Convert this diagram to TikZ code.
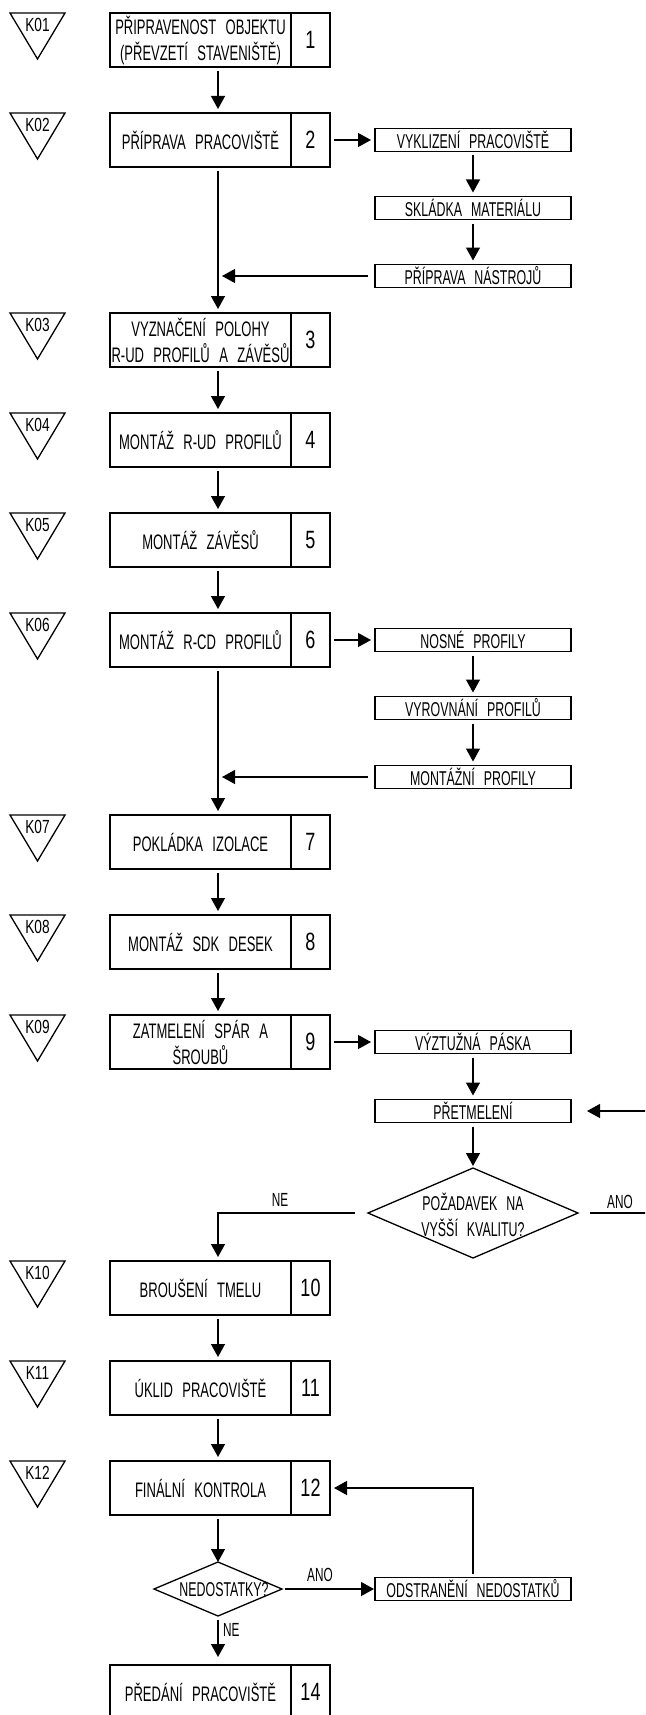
\documentclass[tikz,border=0pt]{standalone}
\usepackage{fontspec}
\setmainfont{Liberation Sans}[FakeStretch=0.62,WordSpace=2.6]
\newfontfamily\widefont{Liberation Sans}[FakeStretch=0.72,WordSpace=2.6]
\usetikzlibrary{shapes.geometric,arrows.meta,positioning,calc}

\tikzset{
  box/.style={draw, line width=1.3pt, outer sep=0pt, inner sep=0pt, minimum width=181pt, minimum height=54pt, align=center, font=\fontsize{21}{26}\selectfont},
  num/.style={draw, line width=1.3pt, outer sep=0pt, minimum width=39pt, minimum height=54pt, font=\widefont\fontsize{25}{26}\selectfont},
  sub/.style={draw, line width=1.3pt, outer sep=0pt, inner sep=0pt, minimum width=196pt, minimum height=23pt, font=\fontsize{20}{22}\selectfont},
  dec/.style={draw, diamond, line width=1.3pt, outer sep=0pt, inner sep=0pt},
  flow/.style={line width=1.3pt, -{Triangle[length=13pt,width=14pt]}, shorten <=4pt, shorten >=4pt},
  kmark/.style={font=\widefont\fontsize{19}{20}\selectfont, inner sep=0pt},
  lbl/.style={font=\fontsize{19}{20}\selectfont, inner sep=0pt},
}

\begin{document}
\begin{tikzpicture}[x=1pt, y=-1pt]
    \path[use as bounding box, clip] (0,0) rectangle (645,1715);
    \coordinate (col) at (218,0);

    \foreach \k/\y in {01/13,02/113,03/313,04/413,05/513,06/613,07/815,08/915,09/1015,10/1261,11/1361,12/1461}{
        \draw[line width=1.3pt] (10,\y) -- (65,\y) -- (37.5,\y+46) -- cycle;
        \node[kmark] (k\k) at (37.5,\y+12) {K\k};
    }

    \foreach \n/\y/\txt in {1/40/{PŘIPRAVENOST OBJEKTU\\(PŘEVZETÍ STAVENIŠTĚ)}, 2/140/{PŘÍPRAVA PRACOVIŠTĚ},
        3/340/{VYZNAČENÍ POLOHY\\R-UD PROFILŮ A ZÁVĚSŮ}, 4/440/{MONTÁŽ R-UD PROFILŮ}, 5/540/{MONTÁŽ ZÁVĚSŮ},
        6/640/{MONTÁŽ R-CD PROFILŮ}, 7/842/{POKLÁDKA IZOLACE}, 8/942/{MONTÁŽ SDK DESEK},
        9/1042/{ZATMELENÍ SPÁR A\\ŠROUBŮ}, 10/1288/{BROUŠENÍ TMELU}, 11/1388/{ÚKLID PRACOVIŠTĚ},
        12/1488/{FINÁLNÍ KONTROLA}, 14/1692/{PŘEDÁNÍ PRACOVIŠTĚ}}{
        \node[box] (t\n) at (200.5,\y) {\txt};
        \node[num, right=0pt of t\n] (n\n) {\n};
    }

    \node[sub] (s1) at (473,140) {VYKLIZENÍ PRACOVIŠTĚ};
    \node[sub] (s2) at (473,208) {SKLÁDKA MATERIÁLU};
    \node[sub] (s3) at (473,276) {PŘÍPRAVA NÁSTROJŮ};
    \node[sub] (s4) at (473,640) {NOSNÉ PROFILY};
    \node[sub] (s5) at (473,708) {VYROVNÁNÍ PROFILŮ};
    \node[sub] (s6) at (473,777) {MONTÁŽNÍ PROFILY};
    \node[sub] (s7) at (473,1042) {VÝZTUŽNÁ PÁSKA};
    \node[sub] (s8) at (473,1111) {PŘETMELENÍ};
    \node[sub] (s9) at (473,1589) {ODSTRANĚNÍ NEDOSTATKŮ};

    \node[dec, minimum width=210pt, minimum height=90pt] (q1) at (473,1213) {};
    \node[align=center, font=\fontsize{20}{26}\selectfont, inner sep=0pt] (q1t) at (473,1215) {POŽADAVEK NA\\VYŠŠÍ KVALITU?};
    \node[dec, minimum width=128pt, minimum height=54pt] (q2) at (218,1589) {};
    \node[font=\fontsize{20}{24}\selectfont, inner sep=0pt] (q2t) at (224,1590) {NEDOSTATKY?};

    \node[lbl] (ne1) at (280,1200) {NE};
    \node[lbl] (ano1) at (620,1202) {ANO};
    \node[lbl] (ano2) at (320,1575) {ANO};
    \node[lbl, anchor=west] (ne2) at (223,1630) {NE};

    \foreach \a/\b in {1/2,2/3,3/4,4/5,5/6,6/7,7/8,8/9,10/11,11/12}
        \draw[flow] (t\a.south -| col) -- (t\b.north -| col);

    \draw[flow] (n2.east) -- (s1.west);
    \draw[flow] (s1) -- (s2);
    \draw[flow] (s2) -- (s3);
    \draw[flow, shorten <=7pt] (s3.west) -- (s3.west -| col);

    \draw[flow] (n6.east) -- (s4.west);
    \draw[flow] (s4) -- (s5);
    \draw[flow] (s5) -- (s6);
    \draw[flow, shorten <=7pt] (s6.west) -- (s6.west -| col);

    \draw[flow] (n9.east) -- (s7.west);
    \draw[flow] (s7) -- (s8);
    \draw[flow, shorten >=2pt] (s8) -- (q1.north);
    \draw[flow, shorten <=13pt] (q1.west) -| (t10.north -| col);
    \draw[flow, shorten <=12pt, shorten >=16pt] (q1.east) -- ++(80,0) |- (s8.east);

    \draw[flow, shorten >=0pt] (t12.south -| col) -- (q2.north);
    \draw[flow, shorten <=3pt, shorten >=1pt] (q2.east) -- (s9.west);
    \draw[flow] (s9.north) |- (n12.east);
    \draw[flow, shorten >=8pt] (q2.south) -- (t14.north -| col);
\end{tikzpicture}
\end{document}
